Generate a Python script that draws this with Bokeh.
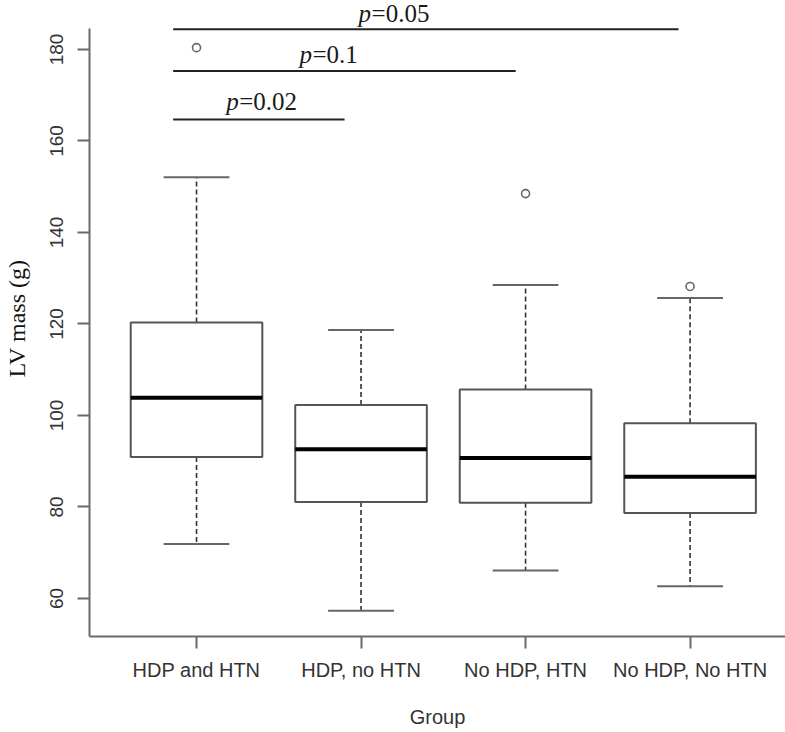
from bokeh.plotting import figure
from bokeh.models import FixedTicker, Range1d, Label
from bokeh.embed import file_html
from bokeh.resources import INLINE

# ---- data ----
groups = ["HDP and HTN", "HDP, no HTN", "No HDP, HTN", "No HDP, No HTN"]
lower_whisker = [71.9, 57.3, 66.1, 62.7]
q1 = [90.9, 81.1, 80.9, 78.7]
median = [103.9, 92.6, 90.7, 86.6]
q3 = [120.3, 102.3, 105.7, 98.3]
upper_whisker = [152.1, 118.7, 128.5, 125.7]
outlier_group = [1, 3, 4]
outlier_value = [180.4, 148.5, 128.2]

y_ticks = [60, 80, 100, 120, 140, 160, 180]

# significance comparisons
comp_x0 = [0.858, 0.858, 0.858]
comp_x1 = [1.90, 2.94, 3.93]
comp_y = [164.7, 175.3, 184.4]
comp_label = ["=0.02", "=0.1", "=0.05"]
comp_label_x = [1.180, 1.626, 1.985]
comp_label_y = [166.6, 177.0, 185.9]

# ---- figure ----
xpos = [i + 1 for i in range(len(groups))]
p = figure(width=785, height=732, output_backend="svg", toolbar_location=None,
           x_range=Range1d(0.3495, 4.580), y_range=Range1d(51.69, 190.71),
           min_border_left=89, min_border_right=0, min_border_top=0, min_border_bottom=96)
p.outline_line_color = None
p.xgrid.visible = False
p.ygrid.visible = False
p.background_fill_color = "white"
p.border_fill_color = "white"

axis_col = "#6a6a6a"
text_col = "#333333"

# y axis (line limited to the plotting region, as in the reference)
ya = p.yaxis[0]
ya.bounds = (51.69, 184.59)
ya.ticker = FixedTicker(ticks=y_ticks)
ya.axis_line_color = axis_col
ya.axis_line_width = 2
ya.major_tick_line_color = axis_col
ya.major_tick_line_width = 2
ya.major_tick_out = 12
ya.major_tick_in = 0
ya.minor_tick_line_color = None
ya.major_label_orientation = "vertical"
ya.major_label_text_font = "Liberation Sans"
ya.major_label_text_font_size = "19px"
ya.major_label_text_color = text_col
ya.major_label_standoff = 14
ya.axis_label = "LV mass (g)"
ya.axis_label_text_font = "Liberation Serif"
ya.axis_label_text_font_style = "normal"
ya.axis_label_text_font_size = "24px"
ya.axis_label_text_color = "#111111"
ya.axis_label_standoff = 18

# x axis
xa = p.xaxis[0]
xa.ticker = FixedTicker(ticks=xpos)
xa.major_label_overrides = {x: g for x, g in zip(xpos, groups)}
xa.axis_line_color = axis_col
xa.axis_line_width = 2
xa.major_tick_line_color = axis_col
xa.major_tick_line_width = 2
xa.major_tick_out = 12
xa.major_tick_in = 0
xa.minor_tick_line_color = None
xa.major_label_text_font = "Liberation Sans"
xa.major_label_text_font_size = "20px"
xa.major_label_text_color = text_col
xa.major_label_standoff = 10
xa.axis_label = "Group"
xa.axis_label_text_font = "Liberation Sans"
xa.axis_label_text_font_style = "normal"
xa.axis_label_text_font_size = "20px"
xa.axis_label_text_color = text_col
xa.axis_label_standoff = 22

box_col = "#555555"
half = 0.4
cap = 0.2

# whiskers (dashed)
p.segment(x0=xpos, y0=q3, x1=xpos, y1=upper_whisker, line_color="#333333",
          line_width=1.6, line_dash="5 3")
p.segment(x0=xpos, y0=q1, x1=xpos, y1=lower_whisker, line_color="#333333",
          line_width=1.6, line_dash="5 3")
# caps
p.segment(x0=[x - cap for x in xpos], y0=upper_whisker, x1=[x + cap for x in xpos],
          y1=upper_whisker, line_color="#666666", line_width=2)
p.segment(x0=[x - cap for x in xpos], y0=lower_whisker, x1=[x + cap for x in xpos],
          y1=lower_whisker, line_color="#666666", line_width=2)
# boxes
p.quad(left=[x - half for x in xpos], right=[x + half for x in xpos], bottom=q1, top=q3,
       fill_color="white", line_color=box_col, line_width=2)
# medians
p.segment(x0=[x - half for x in xpos], y0=median, x1=[x + half for x in xpos], y1=median,
          line_color="#000000", line_width=4)
# outliers
p.scatter(x=outlier_group, y=outlier_value, marker="circle", size=8,
          fill_color=None, line_color="#666666", line_width=1.6)

# significance brackets
p.segment(x0=comp_x0, y0=comp_y, x1=comp_x1, y1=comp_y, line_color="#222222", line_width=2)
for lx, ly, lt in zip(comp_label_x, comp_label_y, comp_label):
    p.add_layout(Label(x=lx, y=ly, y_offset=9, text="p", text_font="Liberation Serif",
                       text_font_style="italic", text_font_size="25px",
                       text_color="#1a1a1a", text_baseline="alphabetic", text_align="left"))
    p.add_layout(Label(x=lx, y=ly, x_offset=13, y_offset=9, text=lt,
                       text_font="Liberation Serif", text_font_size="25px",
                       text_color="#1a1a1a", text_baseline="alphabetic", text_align="left"))

open("out.html", "w").write(file_html(p, INLINE))
